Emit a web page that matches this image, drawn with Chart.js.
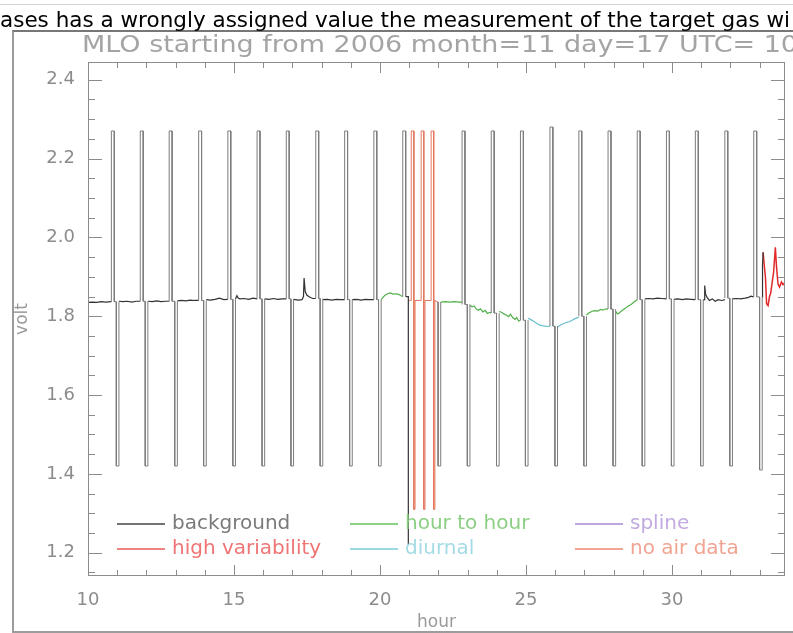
<!DOCTYPE html>
<html>
<head>
<meta charset="utf-8">
<script src="https://cdn.jsdelivr.net/npm/chart.js@4.4.1/dist/chart.umd.min.js"></script>
<style>
  html, body { margin: 0; padding: 0; background: #fff; }
  body { width: 793px; height: 633px; position: relative; overflow: hidden; }
  #rule { position: absolute; left: 0; top: 4px; width: 793px; height: 1px; background: #d4d4d4; }
  #frame { position: absolute; left: 12px; top: 30px; width: 800px; height: 599px; border: 2px solid #9c9c9c; border-right: none; border-top-color: #777; }
  #wrap { position: absolute; left: 0; top: 0; width: 793px; height: 633px; }
  #title { position: absolute; left: 82px; top: 31px; white-space: nowrap; font: 23px "DejaVu Sans", sans-serif; color: #a4a4a4; transform-origin: 0 0; }
  #note { position: absolute; left: 0; top: 7px; white-space: nowrap; font: 22px "DejaVu Sans", sans-serif; color: #000; transform-origin: 0 0; }
</style>
</head>
<body>
<div id="rule"></div>
<div id="frame"></div>
<div id="wrap"><canvas id="voltChart" width="793" height="633"></canvas></div>
<div id="title">MLO starting from 2006 month=11 day=17 UTC= 10</div>
<div id="note">ases has a wrongly assigned value the measurement of the target gas wi</div>

<script>
// values

const xTickValues = [10, 15, 20, 25, 30];
const yTickValues = [1.2, 1.4, 1.6, 1.8, 2.0, 2.2, 2.4];

// hourly calibration cycles (null = no excursion in that cycle)
const cycleUp   = [10.80, 11.79, 12.78, 13.79, 14.79, 15.79, 16.79, 17.80, 18.79, 19.79, 20.78, null,
                   22.81, 23.81, 24.81, 25.82, 26.81, 27.81, 28.81, 29.81, 30.80, 31.81, 32.80];
const cycleDown = [10.97, 11.96, 12.97, 13.96, 14.96, 15.96, 16.95, 17.95, 18.96, 19.95, null, 21.99,
                   22.99, 23.99, 24.98, 25.99, 26.98, 27.98, 28.98, 29.98, 30.98, 31.98, 33.00];
const cycleBase = [1.837, 1.838, 1.838, 1.840, 1.843, 1.844, 1.844, 1.845, 1.842, 1.842, 1.850, 1.836,
                   1.830, 1.808, 1.790, 1.775, 1.800, 1.818, 1.842, 1.844, 1.842, 1.846, 1.849];
const cyclePeak = [2.27, 2.27, 2.27, 2.27, 2.27, 2.27, 2.27, 2.27, 2.27, 2.27, 2.27, null,
                   2.27, 2.27, 2.27, 2.28, 2.27, 2.27, 2.27, 2.27, 2.27, 2.27, 2.27];
const cycleFloor = [1.42, 1.42, 1.42, 1.42, 1.42, 1.42, 1.42, 1.42, 1.42, 1.42, null, 1.42,
                    1.42, 1.42, 1.42, 1.42, 1.42, 1.42, 1.42, 1.42, 1.42, 1.42, 1.41];
const upWidth = 0.10;   // hours spent at the high span gas
const downWidth = 0.09; // hours spent at the low span gas

// background (black) trace, null breaks the line
const backgroundHour = [
  10.00, 10.15, 10.30, 10.45, 10.60, 10.80, null,
  11.06, 11.20, 11.35, 11.50, 11.65, 11.79, null,
  12.05, 12.20, 12.35, 12.50, 12.65, 12.78, null,
  13.06, 13.20, 13.35, 13.50, 13.65, 13.79, null,
  14.05, 14.20, 14.35, 14.50, 14.65, 14.79, null,
  15.05, 15.10, 15.14, 15.20, 15.35, 15.50, 15.65, 15.79, null,
  16.05, 16.20, 16.35, 16.50, 16.65, 16.79, null,
  17.04, 17.20, 17.33, 17.38, 17.40, 17.44, 17.50, 17.60, 17.70, 17.80, null,
  18.05, 18.20, 18.35, 18.50, 18.65, 18.79, null,
  19.05, 19.20, 19.35, 19.50, 19.65, 19.79, null,
  20.88, 20.97, 20.97, null,
  29.07, 29.20, 29.35, 29.50, 29.65, 29.81, null,
  30.07, 30.20, 30.35, 30.50, 30.65, 30.80, null,
  31.07, 31.10, 31.12, 31.15, 31.20, 31.28, 31.38, 31.48, 31.58, 31.70, 31.81, null,
  32.07, 32.20, 32.35, 32.50, 32.62, 32.70, 32.80, null,
  33.09, 33.10, 33.12
];
const backgroundVolt = [
  1.835, 1.836, 1.835, 1.837, 1.836, 1.837, null,
  1.838, 1.837, 1.838, 1.836, 1.838, 1.838, null,
  1.838, 1.837, 1.839, 1.837, 1.838, 1.838, null,
  1.839, 1.840, 1.839, 1.841, 1.840, 1.840, null,
  1.842, 1.841, 1.843, 1.846, 1.842, 1.843, null,
  1.844, 1.852, 1.846, 1.844, 1.845, 1.843, 1.846, 1.844, null,
  1.844, 1.843, 1.845, 1.843, 1.844, 1.844, null,
  1.843, 1.841, 1.842, 1.850, 1.897, 1.862, 1.853, 1.848, 1.845, 1.845, null,
  1.842, 1.843, 1.841, 1.843, 1.842, 1.842, null,
  1.842, 1.843, 1.841, 1.843, 1.842, 1.842, null,
  1.850, 1.850, 1.220, null,
  1.844, 1.845, 1.844, 1.846, 1.845, 1.844, null,
  1.843, 1.844, 1.842, 1.844, 1.843, 1.842, null,
  1.840, 1.842, 1.878, 1.856, 1.848, 1.840, 1.844, 1.838, 1.842, 1.840, 1.842, null,
  1.844, 1.845, 1.844, 1.846, 1.848, 1.851, 1.849, null,
  1.849, 1.930, 1.962
];

// high variability (red)
const highVarHour = [33.12, 33.16, 33.20, 33.24, 33.29, 33.34, 33.38, 33.44, 33.48, 33.54, 33.58, 33.63, 33.68, 33.75, 33.80, 33.86];
const highVarVolt = [1.962, 1.930, 1.899, 1.832, 1.827, 1.850, 1.858, 1.891, 1.912, 1.975, 1.925, 1.882, 1.874, 1.887, 1.880, 1.885];

// hour to hour (green)
const hourToHourHour = [
  20.04, 20.10, 20.18, 20.26, 20.35, 20.45, 20.55, 20.65, 20.72, 20.78, null,
  22.08, 22.25, 22.40, 22.55, 22.70, 22.81, null,
  23.08, 23.15, 23.22, 23.30, 23.37, 23.44, 23.52, 23.60, 23.68, 23.75, 23.81, null,
  24.08, 24.16, 24.24, 24.32, 24.40, 24.47, 24.55, 24.62, 24.68, 24.75, 24.81, null,
  27.07, 27.15, 27.25, 27.35, 27.45, 27.55, 27.65, 27.74, 27.81, null,
  28.07, 28.14, 28.22, 28.30, 28.40, 28.50, 28.60, 28.70, 28.81
];
const hourToHourVolt = [
  1.842, 1.848, 1.854, 1.857, 1.859, 1.856, 1.857, 1.855, 1.852, 1.850, null,
  1.836, 1.837, 1.836, 1.837, 1.836, 1.836, null,
  1.828, 1.824, 1.826, 1.818, 1.815, 1.819, 1.811, 1.815, 1.807, 1.810, 1.808, null,
  1.812, 1.810, 1.806, 1.803, 1.799, 1.805, 1.796, 1.792, 1.797, 1.788, 1.790, null,
  1.803, 1.808, 1.812, 1.814, 1.813, 1.817, 1.816, 1.819, 1.818, null,
  1.812, 1.806, 1.810, 1.815, 1.820, 1.826, 1.830, 1.836, 1.842
];

// diurnal (light blue)
const diurnalHour = [25.07, 25.15, 25.25, 25.35, 25.45, 25.55, 25.65, 25.75, 25.82, null,
                     26.08, 26.18, 26.28, 26.38, 26.48, 26.58, 26.68, 26.81];
const diurnalVolt = [1.795, 1.792, 1.788, 1.783, 1.778, 1.776, 1.775, 1.774, 1.775, null,
                     1.773, 1.778, 1.781, 1.784, 1.786, 1.790, 1.794, 1.797];

// spline: nothing flagged in this window
const splineHour = [];
const splineVolt = [];

// no air data (orange): three excursions between 21 and 22 h
const noAirHour = [21.00,
  21.07, 21.07, 21.16, 21.16, 21.20, 21.20,
  21.41, 21.41, 21.50, 21.50, 21.54, 21.54,
  21.75, 21.75, 21.84, 21.84, 21.88, 21.88, 21.99];
const noAirVolt = [1.84,
  1.84, 2.27, 2.27, 1.31, 1.31, 1.84,
  1.84, 2.27, 2.27, 1.31, 1.31, 1.84,
  1.84, 2.27, 2.27, 1.31, 1.31, 1.84, 1.836];

function toPoints(hours, volts) {
    return hours.map((h, i) => ({ x: h, y: volts[i] }));
}

function cyclePoints() {
    const pts = [];
    cycleUp.forEach((u, i) => {
        const d = cycleDown[i];
        const b = cycleBase[i];
        if (u !== null) {
            pts.push({ x: u, y: b }, { x: u, y: cyclePeak[i] },
                     { x: u + upWidth, y: cyclePeak[i] }, { x: u + upWidth, y: b });
        }
        if (d !== null) {
            pts.push({ x: d, y: b }, { x: d, y: cycleFloor[i] },
                     { x: d + downWidth, y: cycleFloor[i] }, { x: d + downWidth, y: b });
        }
        pts.push({ x: null, y: null });
    });
    return pts;
}

// fit the two html text lines to the width they take in the reference
function fitText(id, width) {
    const el = document.getElementById(id);
    const w = el.getBoundingClientRect().width;
    el.style.transform = `scaleX(${width / w})`;
}
fitText('note', 790);
fitText('title', 716);

// box around the plot with inward ticks, like the original plot
const boxTicks = {
    id: 'boxTicks',
    afterDatasetsDraw(chart) {
        const { ctx, chartArea: a, scales: { x, y } } = chart;
        ctx.save();
        ctx.strokeStyle = '#8c8c8c';
        ctx.lineWidth = 1;
        ctx.strokeRect(a.left + 0.5, a.top + 0.5, a.right - a.left - 1, a.bottom - a.top - 1);
        ctx.beginPath();
        for (let h = Math.ceil(x.min); h <= x.max; h++) {
            const px = Math.round(x.getPixelForValue(h)) + 0.5;
            const len = xTickValues.includes(h) ? 11 : 6;
            ctx.moveTo(px, a.bottom); ctx.lineTo(px, a.bottom - len);
            ctx.moveTo(px, a.top); ctx.lineTo(px, a.top + len);
        }
        for (let k = Math.ceil(y.min / 0.05); k * 0.05 <= y.max; k++) {
            const py = Math.round(y.getPixelForValue(k * 0.05)) + 0.5;
            const len = k % 4 === 0 ? 14 : 7;
            ctx.moveTo(a.left, py); ctx.lineTo(a.left + len, py);
            ctx.moveTo(a.right, py); ctx.lineTo(a.right - len, py);
        }
        ctx.stroke();
        ctx.restore();
    }
};

// legend drawn inside the plot, three columns by two rows
const legendGrid = [
    { label: 'background', line: '#444444', text: '#7a7a7a', x: 117, row: 0 },
    { label: 'high variability', line: '#e85a5a', text: '#ef7474', x: 117, row: 1 },
    { label: 'hour to hour', line: '#66c05c', text: '#8ccf84', x: 350, row: 0 },
    { label: 'diurnal', line: '#7cccdc', text: '#a4dbe5', x: 350, row: 1 },
    { label: 'spline', line: '#a88ad6', text: '#c2abe0', x: 575, row: 0 },
    { label: 'no air data', line: '#ea8670', text: '#f2a493', x: 575, row: 1 }
];
const innerLegend = {
    id: 'innerLegend',
    afterDatasetsDraw(chart) {
        const { ctx } = chart;
        ctx.save();
        ctx.font = '20px "DejaVu Sans"';
        ctx.textBaseline = 'middle';
        legendGrid.forEach(e => {
            const yy = e.row === 0 ? 524 : 549;
            ctx.strokeStyle = e.line;
            ctx.lineWidth = 1.5;
            ctx.beginPath();
            ctx.moveTo(e.x, yy); ctx.lineTo(e.x + 48, yy);
            ctx.stroke();
            ctx.fillStyle = e.text;
            ctx.fillText(e.label, e.x + 55, yy);
        });
        ctx.restore();
    }
};

const lineStyle = { showLine: true, pointRadius: 0, borderWidth: 1.2, spanGaps: false, fill: false };

const ctx = document.getElementById('voltChart').getContext('2d');
new Chart(ctx, {
    type: 'scatter',
    data: {
        datasets: [
            { ...lineStyle, label: 'calibration', data: cyclePoints(), borderColor: '#7c7c7c', borderWidth: 1 },
            { ...lineStyle, label: 'background', data: toPoints(backgroundHour, backgroundVolt), borderColor: '#333333' },
            { ...lineStyle, label: 'hour to hour', data: toPoints(hourToHourHour, hourToHourVolt), borderColor: '#4fb046' },
            { ...lineStyle, label: 'diurnal', data: toPoints(diurnalHour, diurnalVolt), borderColor: '#68bfd0' },
            { ...lineStyle, label: 'spline', data: toPoints(splineHour, splineVolt), borderColor: '#a080cc' },
            { ...lineStyle, label: 'no air data', data: toPoints(noAirHour, noAirVolt), borderColor: '#e3785e', borderWidth: 1 },
            { ...lineStyle, label: 'high variability', data: toPoints(highVarHour, highVarVolt), borderColor: '#e02a2a', borderWidth: 1.5 }
        ]
    },
    options: {
        responsive: false,
        animation: false,
        devicePixelRatio: 1,
        events: [],
        layout: { padding: { top: 62, right: 8, left: 0, bottom: 0 } },
        scales: {
            x: {
                type: 'linear',
                min: 10,
                max: 33.87,
                afterFit: s => { s.height = 57; },
                afterBuildTicks: s => { s.ticks = xTickValues.map(v => ({ value: v })); },
                grid: { display: false, drawTicks: false },
                border: { display: false },
                ticks: { color: '#8c8c8c', font: { family: 'DejaVu Sans', size: 18 }, padding: 14, callback: v => String(v) },
                title: { display: true, text: 'hour', color: '#9a9a9a', font: { family: 'DejaVu Sans', size: 17 }, padding: { top: 0, bottom: 0 } }
            },
            y: {
                type: 'linear',
                min: 1.141,
                max: 2.445,
                afterFit: s => { s.width = 88; },
                afterBuildTicks: s => { s.ticks = yTickValues.map(v => ({ value: v })); },
                grid: { display: false, drawTicks: false },
                border: { display: false },
                ticks: { color: '#8c8c8c', font: { family: 'DejaVu Sans', size: 18 }, padding: 13, callback: v => v.toFixed(1) },
                title: { display: true, text: 'volt', color: '#9a9a9a', font: { family: 'DejaVu Sans', size: 17 }, padding: { top: 12, bottom: 0 } }
            }
        },
        plugins: {
            legend: { display: false },
            tooltip: { enabled: false }
        }
    },
    plugins: [boxTicks, innerLegend]
});
</script>
</body>
</html>
